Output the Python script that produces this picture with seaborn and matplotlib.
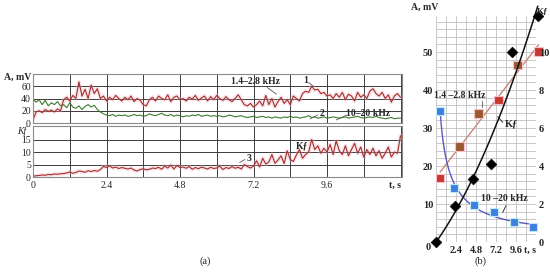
import numpy as np
import pandas as pd
import seaborn as sns
import matplotlib
matplotlib.use("Agg")
import matplotlib.pyplot as plt

# ---------------- data: panel (a) time series (sampled every 0.1 s) ----------------
amp_low = [5, 18, 20, 17, 22, 19, 21, 18, 23, 20,
           38, 42, 36, 45, 40, 67, 44, 55, 40, 62,
           48, 56, 40, 44, 36, 42, 38, 45, 40, 36,
           42, 38, 44, 35, 40, 37, 30, 28, 38, 42,
           36, 44, 40, 38, 46, 35, 42, 44, 38, 40,
           36, 42, 39, 45, 37, 41, 44, 36, 43, 38,
           45, 40, 37, 43, 38, 35, 40, 46, 38, 30,
           28, 32, 26, 30, 36, 28, 45, 30, 40, 26,
           35, 42, 32, 38, 30, 44, 40, 36, 48, 52,
           50, 60, 54, 55, 48, 50, 44, 46, 40, 48,
           42, 50, 38, 47, 44, 36, 50, 42, 46, 40,
           52, 56, 48, 44, 50, 40, 46, 34, 44, 48,
           42]
amp_high = [40, 34, 38, 30, 37, 28, 33, 30, 35, 28,
            30, 25, 33, 26, 24, 28, 22, 27, 30, 26,
            29, 22, 18, 15, 13, 12, 14, 11, 13, 12,
            13, 11, 12, 14, 12, 13, 11, 12, 15, 13,
            12, 14, 16, 13, 12, 14, 11, 13, 12, 10,
            12, 11, 13, 12, 14, 11, 12, 13, 11, 12,
            11, 12, 10, 11, 13, 12, 10, 11, 12, 10,
            9, 10, 11, 9, 10, 11, 9, 10, 8, 10,
            9, 8, 10, 9, 11, 9, 10, 8, 9, 10,
            12, 9, 10, 8, 9, 10, 8, 9, 10, 9,
            8, 9, 10, 8, 9, 10, 11, 9, 8, 9,
            10, 9, 11, 9, 8, 7, 8, 9, 7, 8,
            8]
kf_series = [0.3, 0.5, 0.6, 0.8, 0.7, 1.0, 0.9, 1.2, 1.1, 1.3,
             1.4, 1.6, 2.0, 1.5, 1.8, 2.4, 2.2, 1.9, 2.5, 2.2,
             2.6, 2.3, 3.0, 4.2, 3.8, 4.5, 3.6, 4.0, 3.4, 3.8,
             3.5, 3.2, 3.6, 2.8, 2.4, 3.0, 3.3, 2.9, 3.1, 3.6,
             3.4, 3.9, 3.1, 4.4, 3.6, 4.8, 3.2, 4.6, 3.8, 4.0,
             3.5, 4.2, 3.1, 3.8, 3.3, 4.0, 3.6, 3.2, 3.9, 3.4,
             3.6, 4.4, 3.0, 3.8, 3.4, 4.2, 3.5, 3.9, 3.2, 5.0,
             4.2, 3.6, 4.4, 6.5, 4.0, 7.5, 5.2, 6.0, 9.0, 5.5,
             6.8, 8.5, 5.4, 10.5, 7.0, 6.2, 8.8, 11.0, 7.5, 9.0,
             10.0, 15.0, 11.0, 12.5, 9.5, 11.5, 10.0, 13.0, 9.0, 14.5,
             10.5, 9.0, 12.5, 8.5, 11.0, 13.5, 9.5, 12.0, 8.0, 11.0,
             9.0, 11.5, 8.5, 10.5, 7.5, 9.5, 12.0, 8.0, 10.0, 9.5,
             16.5]
sample_step = 0.1
time_a = np.arange(len(amp_low)) * sample_step

xtick_a = ["0", "", "2.4", "", "4.8", "", "7.2", "", "9.6", "", ""]

# ---------------- data: panel (b) ----------------
t_low = [0.5, 2.8, 5.1, 7.5, 9.8, 12.3]
a_low = [16.8, 25.1, 33.9, 37.4, 46.6, 50.1]
low_colors = ["#c8382e", "#9a5a30", "#9a5a30", "#c8382e", "#9a5a30", "#c8382e"]
t_high = [0.5, 2.2, 4.6, 6.9, 9.4, 11.6]
a_high = [34.6, 14.3, 9.8, 7.8, 5.2, 4.0]
t_kf = [0.0, 2.3, 4.4, 6.6, 9.1, 12.2]
kf_vals = [0.0, 1.9, 3.3, 4.1, 10.0, 11.9]
xtick_b = ["2.4", "4.8", "7.2", "9.6"]

# ---------------- style ----------------
sns.set_style("white")
plt.rcParams["font.family"] = ["Liberation Serif", "DejaVu Serif"]
plt.rcParams["font.size"] = 7

fig = plt.figure(figsize=(5.5, 2.74), dpi=100)

GRID = "#3c3c3c"
SPINE = "#8a8a8a"
RED = "#a0302a"
GREEN = "#3d7a2c"
HALO = "#f4b0c4"

df_a = pd.DataFrame({"t": time_a, "low": amp_low, "high": amp_high, "kf": kf_series})

def style_a(ax, ymax, yt):
    ax.set_xlim(0, 12.05)
    ax.set_ylim(0, ymax)
    ax.set_xticks(np.arange(0, 12.01, 1.2))
    ax.set_yticks(yt)
    ax.grid(True, color=GRID, lw=0.7)
    ax.tick_params(length=0, pad=1.5, labelsize=7)
    for s in ax.spines.values():
        s.set_color(SPINE)
        s.set_linewidth(0.8)
    ax.set_xlabel("")
    ax.set_ylabel("")

# top axes: amplitudes
ax1 = fig.add_axes([0.06, 0.551, 0.671, 0.179])
sns.lineplot(data=df_a, x="t", y="low", ax=ax1, color=HALO, lw=3.0, alpha=0.35)
sns.lineplot(data=df_a, x="t", y="high", ax=ax1, color=GREEN, lw=0.8)
sns.lineplot(data=df_a, x="t", y="low", ax=ax1, color=RED, lw=0.8)
style_a(ax1, 80, [0, 20, 40, 60])
ax1.set_xticklabels([])
fig.text(4 / 550, 1 - 77 / 274, "A, mV", ha="left", va="center", fontsize=7, fontweight="bold")
ax1.text(7.25, 67, "1.4\u20132.8 kHz", ha="center", va="center", fontsize=7, fontweight="bold")
ax1.plot([7.65, 7.95], [58, 47], color="#555", lw=0.6)
ax1.text(8.9, 70, "1", ha="center", va="center", fontsize=7, fontweight="bold")
ax1.plot([9.0, 9.15], [66, 60], color="#555", lw=0.6)
ax1.text(9.45, 15, "2", ha="center", va="center", fontsize=7, fontweight="bold")
ax1.plot([9.05, 9.3], [7, 13], color="#555", lw=0.6)
ax1.text(10.95, 15, "10\u201320 kHz", ha="center", va="center", fontsize=7, fontweight="bold")
ax1.plot([9.9, 10.25], [5, 13], color="#555", lw=0.6)

# bottom axes: Kf
ax2 = fig.add_axes([0.06, 0.354, 0.671, 0.186])
sns.lineplot(data=df_a, x="t", y="kf", ax=ax2, color=HALO, lw=3.0, alpha=0.35)
sns.lineplot(data=df_a, x="t", y="kf", ax=ax2, color=RED, lw=0.8)
style_a(ax2, 20.4, [0, 5, 10, 15])
ax2.set_xticklabels(xtick_a)
ax2.tick_params(axis="x", pad=3)
fig.text(22 / 550, 1 - 131 / 274, "Kf", ha="center", va="center", fontsize=7, style="italic")
ax2.text(12.0, -3.3, "t, s", ha="right", va="center", fontsize=7, fontweight="bold")
ax2.text(7.05, 7.6, "3", ha="center", va="center", fontsize=7, fontweight="bold")
ax2.plot([6.75, 6.92], [5.8, 7.0], color="#555", lw=0.6)
ax2.text(8.8, 12.6, "K\u0192", ha="center", va="center", fontsize=7, fontweight="bold")
fig.text(0.373, 0.045, "(a)", ha="center", va="center", fontsize=7.5)

# ---------------- panel (b) ----------------
axb = fig.add_axes([0.7927, 1 - 242 / 274, 0.182, 226 / 274])
axb.set_xlim(0, 12)
axb.set_ylim(0, 59.5)
axb.set_xticks(np.arange(0, 12.01, 1.2), minor=True)
axb.set_yticks(np.arange(0, 59.6, 2), minor=True)
axb.set_xticks([2.4, 4.8, 7.2, 9.6])
axb.set_xticklabels(xtick_b)
axb.set_yticks([10, 20, 30, 40, 50])
axb.grid(True, which="both", color="#c0c0c0", lw=0.6)
axb.tick_params(which="both", length=0, labelsize=7.5, pad=2)
axb.tick_params(axis="x", pad=3)
for lab in axb.get_xticklabels() + axb.get_yticklabels():
    lab.set_fontweight("bold")
for s in axb.spines.values():
    s.set_visible(False)

# fitted guide lines derived from the points
p_low = np.polyfit(t_low, a_low, 1)
tt = np.linspace(t_low[0], t_low[-1], 50)
axb.plot(tt, np.polyval(p_low, tt), color="#c88878", lw=1.0, clip_on=False)
p_high = np.polyfit(np.log(t_high), a_high, 2)
tt = np.linspace(t_high[0], t_high[-1], 100)
axb.plot(tt, np.polyval(p_high, np.log(tt)), color="#5a5ac0", lw=1.0, clip_on=False)

df_low = pd.DataFrame({"t": t_low, "a": a_low})
df_high = pd.DataFrame({"t": t_high, "a": a_high})
sns.scatterplot(data=df_low, x="t", y="a", ax=axb, marker="s", s=38,
                color=low_colors, edgecolor="#f7c0cc", linewidth=0.8, zorder=4, clip_on=False)
sns.scatterplot(data=df_high, x="t", y="a", ax=axb, marker="s", s=38,
                color="#3f7fe0", edgecolor="#bfeaf5", linewidth=0.8, zorder=4, clip_on=False)
axb.set_xlabel("")
axb.set_ylabel("")

axk = axb.twinx()
axk.set_ylim(0, 11.9)
axk.set_yticks([0, 2, 4, 6, 8, 10])
axk.tick_params(length=0, labelsize=7.5, pad=2)
for lab in axk.get_yticklabels():
    lab.set_fontweight("bold")
for s in axk.spines.values():
    s.set_visible(False)
p_kf = np.polyfit(t_kf, kf_vals, 2)
tt = np.linspace(t_kf[0], t_kf[-1], 100)
axk.plot(tt, np.polyval(p_kf, tt), color="#111", lw=1.1, clip_on=False)
df_kf = pd.DataFrame({"t": t_kf, "k": kf_vals})
sns.scatterplot(data=df_kf, x="t", y="k", ax=axk, marker="D", s=30, color="black",
                edgecolor="black", zorder=5, clip_on=False)
axk.set_xlabel("")
axk.set_ylabel("")
for coll in axb.collections + axk.collections:
    coll.set_clip_on(False)

fig.text(411 / 550, 1 - 7 / 274, "A, mV", ha="left", va="center", fontsize=7, fontweight="bold")
fig.text(548 / 550, 1 - 11 / 274, "K\u0192", ha="right", va="center", fontsize=6.5, fontweight="bold")
fig.text(428 / 550, 1 - 248 / 274, "0", ha="center", va="center", fontsize=7.5, fontweight="bold")
axb.text(2.8, 38.5, "1.4 \u20132.8 kHz", ha="center", va="center", fontsize=7, fontweight="bold")
axb.plot([5.5, 5.5], [35.5, 37.0], color="#555", lw=0.6)
axb.plot([7.4, 8.0], [33.0, 31.5], color="#333", lw=0.7)
axb.text(8.3, 31.2, "K\u0192", ha="left", va="center", fontsize=7.5, fontweight="bold")
axb.text(8.2, 11.5, "10 \u201320 kHz", ha="center", va="center", fontsize=7, fontweight="bold")
axb.plot([8.4, 8.0], [9.6, 7.8], color="#333", lw=0.7)
fig.text(530 / 550, 1 - 250 / 274, "t, s", ha="center", va="center", fontsize=7, fontweight="bold")
fig.text(0.873, 0.045, "(b)", ha="center", va="center", fontsize=7.5)

fig.savefig("out.png", dpi=100)
